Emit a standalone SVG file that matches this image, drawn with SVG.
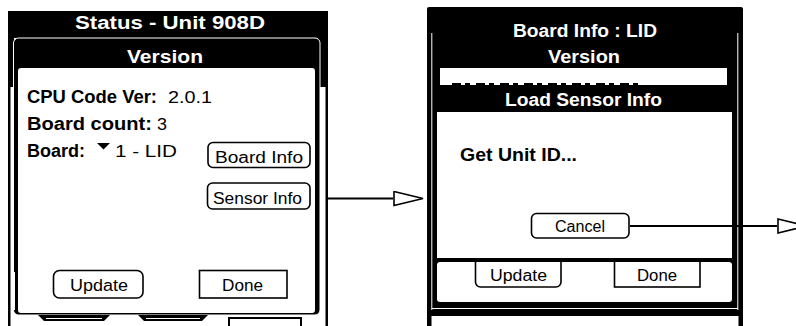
<svg xmlns="http://www.w3.org/2000/svg" width="796" height="326" viewBox="0 0 796 326">
<style>
  .b{font-family:"Liberation Sans",Arial,sans-serif;font-weight:bold;font-size:18px}
  .w{fill:#fff}
  .r{font-family:"Liberation Sans",Arial,sans-serif;font-size:16px;fill:#000}
  .btn{fill:#fff;stroke:#000;stroke-width:1.6}
  .conn{stroke:#000;stroke-width:2;fill:none}
</style>
<defs>
  <marker id="open" viewBox="0 0 31 16" refX="0" refY="8" markerWidth="31" markerHeight="16" markerUnits="userSpaceOnUse" orient="auto">
    <path d="M1,1 L30,8 L1,15 Z" fill="#fff" stroke="#000" stroke-width="1.6"/>
  </marker>
</defs>
<rect width="796" height="326" fill="#fff"/>

<g id="status-screen">
  <rect x="8" y="11" width="320" height="27" fill="#000"/>
  <rect x="8" y="37" width="6" height="50" fill="#000"/>
  <rect x="318" y="37" width="10" height="50" fill="#000"/>
  <rect x="8" y="11" width="2.5" height="315" fill="#000"/>
  <rect x="325.5" y="11" width="2.5" height="315" fill="#000"/>
  <rect x="13.5" y="38" width="306.5" height="277" rx="5" fill="#000" stroke="#fff" stroke-width="1"/>
  <rect x="18" y="68" width="297" height="245" rx="3" fill="#fff"/>
  <rect x="13" y="272" width="2" height="38" fill="#fff"/>
  <text class="b w" x="75" y="28.5" textLength="190" lengthAdjust="spacingAndGlyphs">Status - Unit 908D</text>
  <text class="b w" x="127" y="63" textLength="76" lengthAdjust="spacingAndGlyphs">Version</text>
  <text class="b" x="27" y="103" textLength="130" lengthAdjust="spacingAndGlyphs">CPU Code Ver:</text>
  <text class="r" x="168" y="102.5" textLength="44" lengthAdjust="spacingAndGlyphs">2.0.1</text>
  <text class="b" x="27" y="130" textLength="125" lengthAdjust="spacingAndGlyphs">Board count:</text>
  <text class="r" x="157" y="130" textLength="10" lengthAdjust="spacingAndGlyphs">3</text>
  <text class="b" x="27" y="157" textLength="58" lengthAdjust="spacingAndGlyphs">Board:</text>
  <polygon points="97,143 110,143 103.5,149.5" fill="#000"/>
  <text class="r" x="115" y="156.5" textLength="62" lengthAdjust="spacingAndGlyphs">1 - LID</text>
  <g id="btn-board-info">
    <rect class="btn" x="208" y="142.5" width="102" height="25" rx="5"/>
    <text class="r" x="215" y="163" textLength="88" lengthAdjust="spacingAndGlyphs">Board Info</text>
  </g>
  <g id="btn-sensor-info">
    <rect class="btn" x="207.5" y="183" width="102.5" height="26" rx="5"/>
    <text class="r" x="213" y="204" textLength="89" lengthAdjust="spacingAndGlyphs">Sensor Info</text>
  </g>
  <g id="btn-update-1">
    <rect class="btn" x="53.5" y="270.5" width="89.5" height="27.5" rx="6"/>
    <text class="r" x="70" y="291" textLength="58" lengthAdjust="spacingAndGlyphs">Update</text>
  </g>
  <g id="btn-done-1">
    <rect class="btn" x="199.5" y="270.5" width="87.5" height="27.5"/>
    <text class="r" x="222" y="291" textLength="41" lengthAdjust="spacingAndGlyphs">Done</text>
  </g>
  <path d="M38,315 L44,321 L104,321 L110,315 Z" fill="#000"/>
  <line x1="46" y1="318.5" x2="102" y2="318.5" stroke="#fff" stroke-width="1"/>
  <path d="M138,315 L144,321 L202,321 L208,315 Z" fill="#000"/>
  <line x1="146" y1="318.5" x2="200" y2="318.5" stroke="#fff" stroke-width="1"/>
  <path d="M229,326 L229,318 L301,318 L301,326" fill="none" stroke="#000" stroke-width="2"/>
</g>

<g id="board-info-screen">
  <rect x="427" y="7" width="316" height="309" rx="2" fill="#000"/>
  <rect x="427" y="300" width="4.5" height="26" fill="#000"/>
  <rect x="738.5" y="300" width="4.5" height="26" fill="#000"/>
  <line x1="431.8" y1="33" x2="431.8" y2="310" stroke="#fff" stroke-width="1"/>
  <line x1="737.8" y1="33" x2="737.8" y2="310" stroke="#fff" stroke-width="1"/>
  <line x1="432" y1="308.5" x2="738" y2="308.5" stroke="#fff" stroke-width="1"/>
  <text class="b w" x="513" y="37" textLength="144" lengthAdjust="spacingAndGlyphs">Board Info : LID</text>
  <text class="b w" x="548" y="63" textLength="72" lengthAdjust="spacingAndGlyphs">Version</text>
  <rect x="440" y="68" width="287" height="17" fill="#fff"/>
  <line x1="452" y1="84" x2="640" y2="84" stroke="#000" stroke-width="2" stroke-dasharray="9 4 5 6"/>
  <rect x="437" y="262" width="295" height="40" rx="3" fill="#fff"/>
  <g id="btn-update-2">
    <rect class="btn" x="475.5" y="252" width="85.5" height="35" rx="5"/>
    <text class="r" x="490" y="281" textLength="57" lengthAdjust="spacingAndGlyphs">Update</text>
  </g>
  <g id="btn-done-2">
    <rect class="btn" x="614.5" y="252" width="85.5" height="35"/>
    <text class="r" x="637" y="281" textLength="40" lengthAdjust="spacingAndGlyphs">Done</text>
  </g>
  <g id="load-sensor-dialog">
    <rect x="436" y="85" width="297" height="177" fill="#000"/>
    <text class="b w" x="505" y="106" textLength="157" lengthAdjust="spacingAndGlyphs">Load Sensor Info</text>
    <rect x="437" y="112" width="295" height="146" fill="#fff"/>
    <text class="b" x="460" y="161" textLength="117" lengthAdjust="spacingAndGlyphs">Get Unit ID...</text>
    <g id="btn-cancel">
      <rect class="btn" x="531.5" y="213.5" width="97.5" height="24.5" rx="5"/>
      <text class="r" x="555" y="232" textLength="50" lengthAdjust="spacingAndGlyphs">Cancel</text>
    </g>
  </g>
</g>

<g id="connectors">
  <line class="conn" x1="328" y1="198.5" x2="393" y2="198.5" marker-end="url(#open)"/>
  <line class="conn" x1="630" y1="226" x2="777" y2="226" marker-end="url(#open)"/>
</g>
</svg>
